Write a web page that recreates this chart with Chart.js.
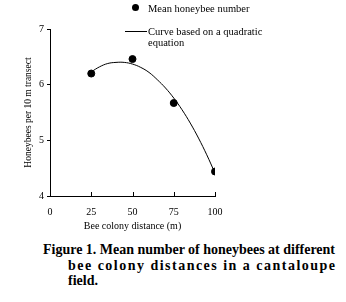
<!DOCTYPE html>
<html>
<head>
<meta charset="utf-8">
<script src="https://cdn.jsdelivr.net/npm/chart.js@4.4.1/dist/chart.umd.min.js"></script>
<style>
    body { margin: 0; background: #fff; width: 346px; height: 302px; overflow: hidden; position: relative; font-family: "Liberation Serif", "Times New Roman", serif; color: #000; }
    #wrap { position: absolute; left: 0; top: 0; width: 346px; height: 236px; }
    .lg { position: absolute; font-size: 10.5px; line-height: 11px; white-space: nowrap; }
    .dot { position: absolute; width: 7px; height: 7px; border-radius: 50%; background: #000; }
    .ln { position: absolute; height: 1px; background: #000; }
    .cap { position: absolute; font-weight: bold; font-size: 14px; line-height: 16px; white-space: nowrap; }
</style>
</head>
<body>
<div id="wrap"><canvas id="beeChart"></canvas></div>

<div class="dot" style="left:132px; top:4px;"></div>
<div class="lg" style="left:148px; top:3px;">Mean honeybee number</div>
<div class="ln" style="left:125px; top:31px; width:22px;"></div>
<div class="lg" style="left:148px; top:26px;">Curve based on a quadratic<br>equation</div>

<div class="cap" id="cap1" style="left:43px; top:242px;">Figure 1. Mean number of honeybees at different</div>
<div class="cap" id="cap2" style="left:68px; top:258px;">bee colony distances in a cantaloupe</div>
<div class="cap" id="cap3" style="left:68px; top:273px;">field.</div>

<script>
'use strict'

const distances = [25, 50, 75, 100];
const meanBees = [6.2, 6.46, 5.67, 4.44];

// quadratic curve, every 5 m
const curveDistances = [25, 30, 35, 40, 45, 50, 55, 60, 65, 70, 75, 80, 85, 90, 95, 100];
const curveBees = [6.23, 6.32, 6.38, 6.40, 6.40, 6.37, 6.31, 6.22, 6.09, 5.94, 5.76, 5.55, 5.31, 5.04, 4.74, 4.41];

const xTicks = [0, 25, 50, 75, 100];
const yTicks = [4, 5, 6, 7];

const serif = '"Liberation Serif", "Times New Roman", serif';

// tick marks on the x axis point up into the plot
const innerTicks = {
    id: 'innerTicks',
    afterDraw(chart) {
        const ctx = chart.ctx;
        const xs = chart.scales.x;
        const y0 = chart.chartArea.bottom;
        ctx.save();
        ctx.strokeStyle = '#000';
        ctx.lineWidth = 1;
        xTicks.slice(1).forEach(v => {
            const px = Math.round(xs.getPixelForValue(v)) + 0.5;
            ctx.beginPath();
            ctx.moveTo(px, y0);
            ctx.lineTo(px, y0 - 4);
            ctx.stroke();
        });
        ctx.restore();
    }
};

new Chart(document.getElementById('beeChart'), {
    type: 'scatter',
    data: {
        datasets: [
            {
                label: 'Mean honeybee number',
                data: distances.map((d, i) => ({ x: d, y: meanBees[i] })),
                backgroundColor: '#000',
                borderColor: '#000',
                pointRadius: 3.5,
                pointHoverRadius: 3.5
            },
            {
                label: 'Curve based on a quadratic equation',
                data: curveDistances.map((d, i) => ({ x: d, y: curveBees[i] })),
                showLine: true,
                borderColor: '#000',
                borderWidth: 1,
                pointRadius: 0,
                tension: 0.4
            }
        ]
    },
    options: {
        responsive: true,
        maintainAspectRatio: false,
        animation: false,
        layout: { padding: { left: 0, top: 29, right: 131, bottom: 0 } },
        plugins: {
            legend: { display: false },
            tooltip: { enabled: false }
        },
        scales: {
            x: {
                type: 'linear',
                min: 0,
                max: 100,
                afterBuildTicks: scale => { scale.ticks = xTicks.map(v => ({ value: v })); },
                afterFit: scale => { scale.height = 40; },
                ticks: { color: '#000', font: { family: serif, size: 10 }, padding: 10 },
                grid: { drawOnChartArea: false, drawTicks: false },
                border: { color: '#000', width: 1 },
                title: { display: true, text: 'Bee colony distance (m)', color: '#000', font: { family: serif, size: 10 }, padding: { top: 2, bottom: 4 } }
            },
            y: {
                min: 4,
                max: 7,
                afterBuildTicks: scale => { scale.ticks = yTicks.map(v => ({ value: v })); },
                afterFit: scale => { scale.width = 50; },
                ticks: { color: '#000', font: { family: serif, size: 10 }, padding: 3 },
                grid: { drawOnChartArea: false, drawTicks: true, tickLength: 3, tickColor: '#000' },
                border: { color: '#000', width: 1 },
                title: { display: true, text: 'Honeybees per 10 m transect', color: '#000', font: { family: serif, size: 9.5 }, padding: { top: 23, bottom: 0 } }
            }
        }
    },
    plugins: [innerTicks]
});

// caption lines 1 and 2 are justified out to the same right edge
const rightEdge = 335;
[['cap1', 43], ['cap2', 68]].forEach(([id, left]) => {
    const el = document.getElementById(id);
    const w = el.getBoundingClientRect().width;
    el.style.letterSpacing = ((rightEdge - left - w) / (el.textContent.length - 1)) + 'px';
});
</script>
</body>
</html>
